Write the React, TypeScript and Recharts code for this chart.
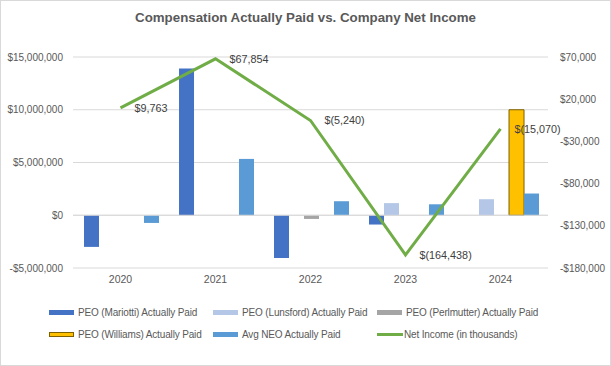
import React from "react"
import {
  ComposedChart,
  Bar,
  Line,
  XAxis,
  YAxis,
  CartesianGrid,
  ReferenceLine,
  LabelList,
} from "recharts"

const years = ["2020", "2021", "2022", "2023", "2024"]
const mariotti = [-3000000, 13900000, -4050000, -880000, null]
const lunsford = [null, null, null, 1150000, 1520000]
const perlmutter = [null, null, -350000, null, null]
const williams = [null, null, null, null, 10000000]
const avgNeo = [-730000, 5340000, 1330000, 1040000, 2060000]
const netIncome = [9763, 67854, -5240, -164438, -15070]

const leftTicks = [-5000000, 0, 5000000, 10000000, 15000000]
const rightTicks = [-180000, -130000, -80000, -30000, 20000, 70000]

const data = years.map((y, i) => ({
  year: y,
  mariotti: mariotti[i],
  lunsford: lunsford[i],
  perlmutter: perlmutter[i],
  williams: williams[i],
  avgNeo: avgNeo[i],
  net: netIncome[i],
}))

const FONT = "'Liberation Sans', Arial, sans-serif"
const TXT = "#595959"

const money = (v: number) => (v < 0 ? "-$" : "$") + Math.abs(v).toLocaleString("en-US")
const acct = (v: number) => (v < 0 ? `$(${Math.abs(v).toLocaleString("en-US")})` : "$" + v.toLocaleString("en-US"))

const legendItems = [
  { name: "PEO (Mariotti) Actually Paid", color: "#4472C4", kind: "bar" },
  { name: "PEO (Lunsford) Actually Paid", color: "#B4C7E7", kind: "bar" },
  { name: "PEO (Perlmutter) Actually Paid", color: "#A5A5A5", kind: "bar" },
  { name: "PEO (Williams) Actually Paid", color: "#FFC000", kind: "bar", border: "#7F6000" },
  { name: "Avg NEO Actually Paid", color: "#5B9BD5", kind: "bar" },
  { name: "Net Income (in thousands)", color: "#70AD47", kind: "line" },
]

function NetLabel(props: any) {
  const { x, y, value } = props
  return (
    <text x={x + 14} y={y} dy="0.35em" fill="#404040" fontSize={10.8} fontFamily={FONT}>
      {acct(value)}
    </text>
  )
}

export default function App() {
  const colX = [49, 213, 377]
  return (
    <div style={{ position: "absolute", left: 0, top: 0, width: 611, height: 366, background: "#fff", fontFamily: FONT }}>
      <div style={{ position: "absolute", top: 10, width: 611, textAlign: "center", fontWeight: "bold", fontSize: 13.3, color: TXT }}>
        Compensation Actually Paid vs. Company Net Income
      </div>
      <ComposedChart
        width={611}
        height={366}
        data={data}
        margin={{ top: 57, right: 0, left: 0, bottom: 68 }}
        barCategoryGap="11.6%"
        barGap={0}
      >
        <CartesianGrid yAxisId="left" vertical={false} stroke="#D9D9D9" />
        <XAxis dataKey="year" axisLine={false} tickLine={false} height={30} tick={{ fill: TXT, fontSize: 10.5, fontFamily: FONT }} />
        <YAxis
          yAxisId="left"
          width={73}
          domain={[-5000000, 15000000]}
          ticks={leftTicks}
          axisLine={false}
          tickLine={false}
          tickMargin={4}
          tickFormatter={money}
          tick={{ fill: TXT, fontSize: 10, fontFamily: FONT }}
        />
        <YAxis
          yAxisId="right"
          orientation="right"
          width={63}
          domain={[-180000, 70000]}
          ticks={rightTicks}
          axisLine={false}
          tickLine={false}
          tickMargin={6}
          tickFormatter={money}
          tick={{ fill: TXT, fontSize: 10, fontFamily: FONT }}
        />
        <ReferenceLine yAxisId="left" y={0} stroke="#D9D9D9" />
        <Bar yAxisId="left" dataKey="mariotti" fill="#4472C4" isAnimationActive={false} />
        <Bar yAxisId="left" dataKey="lunsford" fill="#B4C7E7" isAnimationActive={false} />
        <Bar yAxisId="left" dataKey="perlmutter" fill="#A5A5A5" isAnimationActive={false} />
        <Bar yAxisId="left" dataKey="williams" fill="#FFC000" stroke="#7F6000" strokeWidth={1} isAnimationActive={false} />
        <Bar yAxisId="left" dataKey="avgNeo" fill="#5B9BD5" isAnimationActive={false} />
        <Line yAxisId="right" type="linear" dataKey="net" stroke="#70AD47" strokeWidth={3} dot={false} isAnimationActive={false}>
          <LabelList dataKey="net" content={<NetLabel />} />
        </Line>
      </ComposedChart>
      {legendItems.map((it, i) => {
        const row = Math.floor(i / 3)
        const col = i % 3
        return (
          <div
            key={it.name}
            style={{ position: "absolute", left: colX[col], top: 304 + row * 22, height: 16, display: "flex", alignItems: "center", fontSize: 10, letterSpacing: -0.15, color: TXT, whiteSpace: "nowrap" }}
          >
            {it.kind === "bar" ? (
              <span style={{ width: 25, height: 5, background: it.color, boxSizing: "border-box", border: it.border ? `1px solid ${it.border}` : "none", marginRight: 4 }} />
            ) : (
              <span style={{ width: 26, height: 3, background: it.color, marginRight: 1 }} />
            )}
            <span>{it.name}</span>
          </div>
        )
      })}
      <div style={{ position: "absolute", left: 0, top: 0, width: 611, height: 366, boxSizing: "border-box", border: "1px solid #D9D9D9", pointerEvents: "none" }} />
    </div>
  )
}
